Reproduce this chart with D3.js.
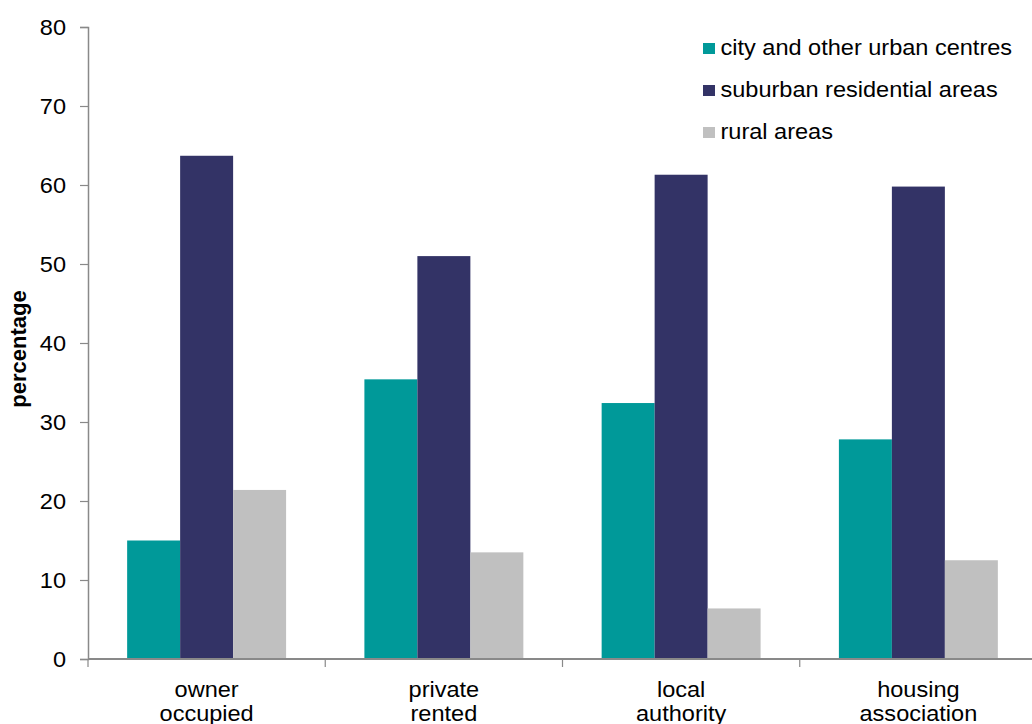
<!DOCTYPE html>
<html><head><meta charset="utf-8">
<script src="https://cdn.jsdelivr.net/npm/d3@7"></script>
<style>body{margin:0;background:#fff}svg{display:block;font-family:"Liberation Sans",Arial,sans-serif}</style>
</head><body><svg id="c" width="1032" height="724"></svg>
<script>
const categories = [["owner","occupied"],["private","rented"],["local","authority"],["housing","association"]];
const seriesNames = ["city and other urban centres","suburban residential areas","rural areas"];
const seriesColors = ["#009999","#333366","#C0C0C0"];
const city = [15.0, 35.4, 32.4, 27.8];
const suburban = [63.7, 51.0, 61.3, 59.8];
const rural = [21.4, 13.5, 6.4, 12.5];
const yTicks = [0,10,20,30,40,50,60,70,80];

(function(){
const svg = d3.select("#c");
const FS = 22, SX = 1.07;
const mLeft = 88, mRight = 1037, mTop = 27, mBottom = 659;
const x = d3.scaleBand().domain(d3.range(categories.length)).range([mLeft, mRight]).paddingInner(0.33).paddingOuter(0.165);
const xb = d3.scaleBand().domain(d3.range(categories.length)).range([mLeft, mRight]);
const y = d3.scaleLinear().domain([0, 80]).range([mBottom, mTop]);
const xs = d3.scaleBand().domain(d3.range(3)).range([0, x.bandwidth()]);
const series = [city, suburban, rural];

series.forEach((vals, si) => {
  svg.append("g").selectAll("rect").data(vals).join("rect")
    .attr("x", (d, i) => x(i) + xs(si))
    .attr("y", d => y(d))
    .attr("width", xs.bandwidth())
    .attr("height", d => mBottom - y(d))
    .attr("fill", seriesColors[si]);
});

const ya = svg.append("g").attr("transform", `translate(${mLeft},0)`)
  .call(d3.axisLeft(y).tickValues(yTicks).tickSize(8).tickPadding(14));
ya.select(".domain").attr("stroke", "#898989").attr("stroke-width", 1.5);
ya.selectAll(".tick line").attr("stroke", "#898989").attr("stroke-width", 1.2);
ya.selectAll(".tick text").attr("font-size", FS).attr("fill", "#000")
  .attr("font-family", "Liberation Sans, Arial, sans-serif")
  .attr("x", -22 / SX).attr("dy", "0.34em")
  .attr("transform", `scale(${SX},1)`);

const xa = svg.append("g").attr("transform", `translate(0,${mBottom})`);
xa.append("line").attr("x1", mLeft).attr("x2", mRight).attr("y1", 0).attr("y2", 0).attr("stroke", "#898989").attr("stroke-width", 2);
xa.selectAll(".xt").data(d3.range(categories.length)).join("line")
  .attr("x1", i => xb(i)).attr("x2", i => xb(i)).attr("y1", 0).attr("y2", 8).attr("stroke", "#898989").attr("stroke-width", 1.2);
categories.forEach((lines, i) => {
  const cx = xb(i) + xb.bandwidth() / 2;
  const t = xa.append("text").attr("text-anchor", "middle").attr("font-size", FS).attr("fill", "#000")
    .attr("transform", `translate(${cx},38) scale(${SX},1)`);
  lines.forEach((l, k) => t.append("tspan").attr("x", 0).attr("y", k * 24).text(l));
});

svg.append("text").attr("transform", "translate(26,349) rotate(-90)").attr("text-anchor", "middle")
  .attr("font-size", FS).attr("font-weight", "bold").text("percentage");

const lg = svg.append("g").attr("transform", "translate(703,43)");
seriesNames.forEach((n, i) => {
  lg.append("rect").attr("x", 0).attr("y", i * 42).attr("width", 12).attr("height", 11).attr("fill", seriesColors[i]);
  lg.append("text").attr("transform", `translate(17.5,${i * 42 + 12}) scale(${SX},1)`)
    .attr("font-size", FS).attr("fill", "#000").text(n);
});
})();
</script></body></html>
